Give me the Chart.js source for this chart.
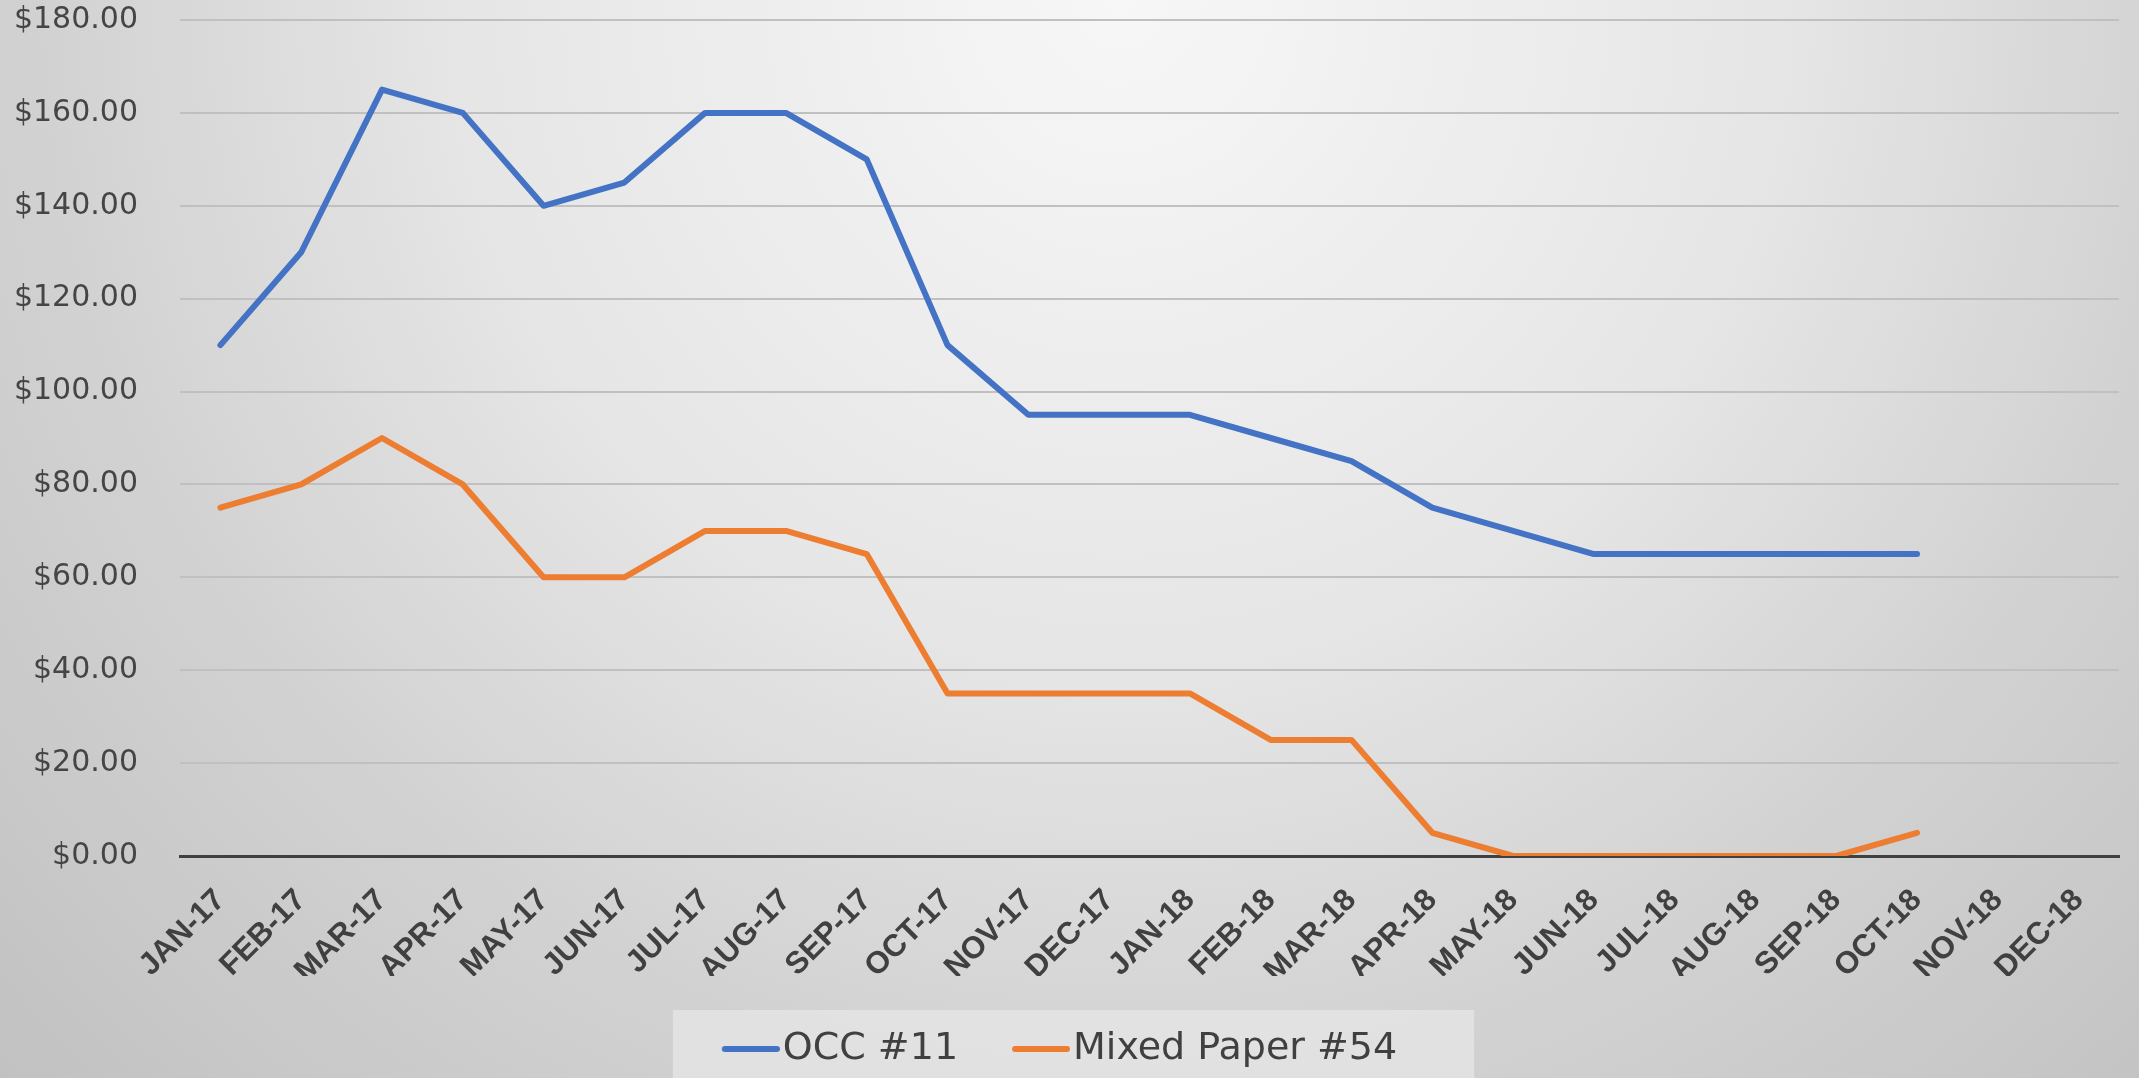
<!DOCTYPE html>
<html>
<head>
<meta charset="utf-8">
<script src="https://cdn.jsdelivr.net/npm/chart.js@4.4.1/dist/chart.umd.min.js"></script>
<style>
  html, body { margin: 0; padding: 0; background: #d8d8d8; overflow: hidden; }
  canvas { display: block; }
</style>
</head>
<body>
<canvas id="c" width="2139" height="1078"></canvas>
<script>
const categories = ['JAN-17','FEB-17','MAR-17','APR-17','MAY-17','JUN-17','JUL-17','AUG-17','SEP-17','OCT-17','NOV-17','DEC-17',
                    'JAN-18','FEB-18','MAR-18','APR-18','MAY-18','JUN-18','JUL-18','AUG-18','SEP-18','OCT-18','NOV-18','DEC-18'];
const occ11 = [110,130,165,160,140,145,160,160,150,110,95,95,95,90,85,75,70,65,65,65,65,65,null,null];
const mixedPaper54 = [75,80,90,80,60,60,70,70,65,35,35,35,35,25,25,5,0,0,0,0,0,5,null,null];
const seriesNames = ['OCC #11','Mixed Paper #54'];
const seriesColors = ['#4472C4','#ED7D31'];
const yMin = 0, yMax = 180, yStep = 20;

// legend marker image: a short rounded line placed so the text sits close to it
function legendMarker(color) {
  const cv = document.createElement('canvas');
  cv.width = 74; cv.height = 10;
  const c = cv.getContext('2d');
  c.strokeStyle = color;
  c.lineWidth = 6;
  c.lineCap = 'round';
  c.beginPath();
  c.moveTo(19, 5);
  c.lineTo(71, 5);
  c.stroke();
  return cv;
}
const markers = seriesColors.map(legendMarker);

const bgPlugin = {
  id: 'bg',
  beforeDraw(chart) {
    const ctx = chart.ctx;
    const w = chart.width, h = chart.height;
    ctx.save();
    const g = ctx.createRadialGradient(1120, 0, 0, 1120, 0, 1600);
    g.addColorStop(0, '#f7f7f7');
    g.addColorStop(0.41, '#e6e6e6');
    g.addColorStop(0.67, '#d2d2d2');
    g.addColorStop(0.96, '#c2c2c2');
    g.addColorStop(1, '#c0c0c0');
    ctx.fillStyle = g;
    ctx.fillRect(0, 0, w, h);
    const lg = chart.legend;
    if (lg && lg.legendHitBoxes && lg.legendHitBoxes.length) {
      const hb = lg.legendHitBoxes;
      const left = hb[0].left - 49;
      const right = hb[hb.length - 1].left + hb[hb.length - 1].width + 77;
      const top = hb[0].top - 20;
      ctx.fillStyle = 'rgba(228,228,228,0.85)';
      ctx.fillRect(left, top, right - left, h - top);
    }
    ctx.restore();
  }
};

new Chart(document.getElementById('c'), {
  type: 'line',
  data: {
    labels: categories,
    datasets: [
      { label: seriesNames[0], data: occ11, borderColor: seriesColors[0], backgroundColor: seriesColors[0],
        borderWidth: 6, pointRadius: 0, tension: 0, borderCapStyle: 'round', borderJoinStyle: 'round', spanGaps: false },
      { label: seriesNames[1], data: mixedPaper54, borderColor: seriesColors[1], backgroundColor: seriesColors[1],
        borderWidth: 6, pointRadius: 0, tension: 0, borderCapStyle: 'round', borderJoinStyle: 'round', spanGaps: false }
    ]
  },
  options: {
    responsive: false,
    animation: false,
    devicePixelRatio: 1,
    layout: { padding: { top: 20, right: 20, left: 0, bottom: 0 } },
    plugins: {
      tooltip: { enabled: false },
      legend: {
        position: 'bottom',
        labels: {
          usePointStyle: true,
          pointStyleWidth: 42,
          boxHeight: 37,
          padding: 54,
          color: '#404040',
          font: { family: '"DejaVu Sans", sans-serif', size: 38 },
          generateLabels(chart) {
            const items = Chart.defaults.plugins.legend.labels.generateLabels(chart);
            items.forEach((it, i) => { it.pointStyle = markers[it.datasetIndex ?? i]; });
            return items;
          }
        }
      }
    },
    scales: {
      x: {
        offset: true,
        grid: { display: false, drawTicks: false },
        border: { display: true, color: '#404040', width: 3 },
        ticks: {
          autoSkip: false,
          minRotation: 45, maxRotation: 45,
          padding: 26,
          color: '#404040',
          font: { family: '"Liberation Sans", Arial, sans-serif', size: 31, weight: 'bold' }
        },
        afterFit(s) { s.height = 120; }
      },
      y: {
        min: yMin, max: yMax,
        grid: {
          drawTicks: false,
          color: (c) => c.tick && c.tick.value === 0 ? '#404040' : '#c0c0c0',
          lineWidth: (c) => c.tick && c.tick.value === 0 ? 3 : 2
        },
        border: { display: false },
        ticks: {
          stepSize: yStep,
          padding: 42,
          color: '#454545',
          font: { family: '"DejaVu Sans", sans-serif', size: 30 },
          callback: (v) => '$' + Number(v).toFixed(2)
        },
        afterFit(s) { s.width = 180; s.paddingTop = 0; s.paddingBottom = 0; }
      }
    }
  },
  plugins: [bgPlugin]
});
</script>
</body>
</html>
